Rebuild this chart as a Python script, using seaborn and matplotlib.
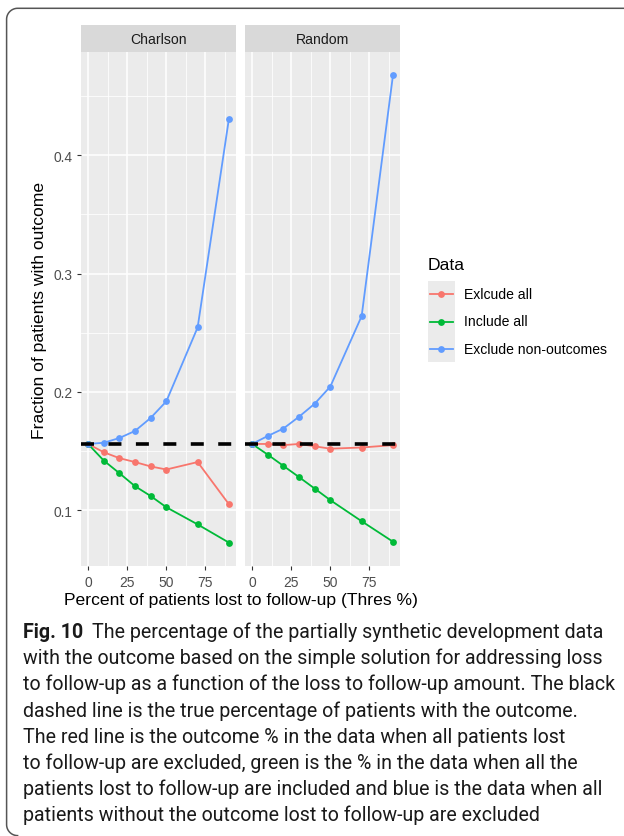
import numpy as np
import pandas as pd
import matplotlib
matplotlib.use("Agg")
import matplotlib.pyplot as plt
from matplotlib.lines import Line2D
from matplotlib.ticker import FixedLocator
import seaborn as sns

# ---- data -----------------------------------------------------------------
thres = [0, 10, 20, 30, 40, 50, 70, 90]
panels = ["Charlson", "Random"]
series = ["Exlcude all", "Include all", "Exclude non-outcomes"]
palette = ["#F8766D", "#00BA38", "#619CFF"]

charlson_exclude_all = [0.156, 0.149, 0.144, 0.1407, 0.137, 0.1344, 0.1407, 0.105]
charlson_include_all = [0.156, 0.142, 0.1313, 0.1203, 0.112, 0.1025, 0.088, 0.0726]
charlson_exclude_non = [0.156, 0.157, 0.161, 0.167, 0.178, 0.192, 0.2545, 0.431]

random_exclude_all = [0.156, 0.156, 0.155, 0.156, 0.154, 0.152, 0.153, 0.155]
random_include_all = [0.156, 0.147, 0.1375, 0.128, 0.1183, 0.1085, 0.0907, 0.0734]
random_exclude_non = [0.156, 0.1627, 0.169, 0.179, 0.190, 0.2045, 0.264, 0.4675]

true_fraction = 0.156

x_major = [0, 25, 50, 75]
x_minor = [12.5, 37.5, 62.5, 87.5]
y_major = [0.1, 0.2, 0.3, 0.4]
y_minor = [0.15, 0.25, 0.35, 0.45]

x_title = "Percent of patients lost to follow-up (Thres %)"
y_title = "Fraction of patients with outcome"
legend_title = "Data"

caption_bold = "Fig. 10"
caption_lines = [
    "The percentage of the partially synthetic development data",
    "with the outcome based on the simple solution for addressing loss",
    "to follow-up as a function of the loss to follow-up amount. The black",
    "dashed line is the true percentage of patients with the outcome.",
    "The red line is the outcome % in the data when all patients lost",
    "to follow-up are excluded, green is the % in the data when all the",
    "patients lost to follow-up are included and blue is the data when all",
    "patients without the outcome lost to follow-up are excluded",
]

panel_values = {
    "Charlson": [charlson_exclude_all, charlson_include_all, charlson_exclude_non],
    "Random": [random_exclude_all, random_include_all, random_exclude_non],
}
records = []
for panel in panels:
    for name, ys in zip(series, panel_values[panel]):
        for x, y in zip(thres, ys):
            records.append({"panel": panel, "thres": x, "Data": name, "frac": y})
df = pd.DataFrame(records)

# ---- figure ---------------------------------------------------------------
W, H, DPI = 624, 837, 100
plt.rcParams["font.family"] = ["Liberation Sans", "DejaVu Sans"]
fig = plt.figure(figsize=(W / DPI, H / DPI), dpi=DPI)
fig.patch.set_facecolor("white")


def rect(l, t, r, b):
    return [l / W, 1 - b / H, (r - l) / W, (b - t) / H]


# ggplot-like expanded limits (5 % each side)
xlo, xhi = min(thres), max(thres)
xpad = 0.05 * (xhi - xlo)
ylo, yhi = df["frac"].min(), df["frac"].max()
ypad = 0.05 * (yhi - ylo)

panel_px = {"Charlson": (81, 236), "Random": (245, 400)}
top, bottom = 53, 567
strip_top = 26

for i, panel in enumerate(panels):
    l, r = panel_px[panel]
    ax = fig.add_axes(rect(l, top, r, bottom))
    ax.set_facecolor("#EBEBEB")
    sub = df[df["panel"] == panel]
    sns.lineplot(data=sub, x="thres", y="frac", hue="Data", hue_order=series,
                 palette=palette, marker="o", markersize=4.9, markeredgewidth=0,
                 linewidth=1.3, estimator=None, legend=False, ax=ax, zorder=3)
    ax.axhline(true_fraction, color="black", lw=2.6, dashes=(3.6, 4.0), zorder=4)

    ax.set_xlim(xlo - xpad, xhi + xpad)
    ax.set_ylim(ylo - ypad, yhi + ypad)
    ax.xaxis.set_major_locator(FixedLocator(x_major))
    ax.xaxis.set_minor_locator(FixedLocator(x_minor))
    ax.yaxis.set_major_locator(FixedLocator(y_major))
    ax.yaxis.set_minor_locator(FixedLocator(y_minor))
    ax.grid(which="major", color="white", lw=1.1)
    ax.grid(which="minor", color="white", lw=0.55)
    ax.set_axisbelow(True)
    for s in ax.spines.values():
        s.set_visible(False)
    ax.tick_params(which="major", length=3.1, width=0.8, color="#333333",
                   labelcolor="#4D4D4D", labelsize=9.9, pad=3.2)
    ax.tick_params(which="minor", length=0)
    ax.set_xticklabels([str(v) for v in x_major])
    if i == 0:
        ax.set_yticklabels([f"{v:g}" for v in y_major])
    else:
        ax.tick_params(axis="y", which="both", left=False, labelleft=False)
    ax.set_xlabel("")
    ax.set_ylabel("")

    # facet strip
    sax = fig.add_axes(rect(l, strip_top, r, top))
    sax.set_facecolor("#D9D9D9")
    sax.set_xticks([])
    sax.set_yticks([])
    for s in sax.spines.values():
        s.set_visible(False)
    sax.text(0.5, 0.5, panel, ha="center", va="center", fontsize=10.1,
             color="#1A1A1A", transform=sax.transAxes)

# axis titles
fig.text(240.5 / W, 1 - 601 / H, x_title, ha="center", va="center", fontsize=12.6)
fig.text(40 / W, 1 - 310 / H, y_title, ha="center", va="center", fontsize=12.6,
         rotation=90)

# legend
fig.text(427.7 / W, 1 - 265 / H, legend_title, ha="left", va="center", fontsize=12.6)
key_top, key_h = 281.7, 27.2
lax = fig.add_axes(rect(427.7, key_top, 455, key_top + 3 * key_h))
lax.set_facecolor("#EBEBEB")
lax.set_xlim(0, 1)
lax.set_ylim(3, 0)
lax.set_xticks([])
lax.set_yticks([])
for s in lax.spines.values():
    s.set_visible(False)
for k, (name, col) in enumerate(zip(series, palette)):
    lax.plot([0.08, 0.92], [k + 0.5, k + 0.5], color=col, lw=1.3)
    lax.plot([0.5], [k + 0.5], marker="o", color=col, markersize=4.9, markeredgewidth=0)
    fig.text(464 / W, 1 - (key_top + (k + 0.5) * key_h) / H, name, ha="left",
             va="center", fontsize=10.1)

# outer frame: rounded top-left / bottom-left corners, open to the right and bottom
fx, fy_top, fy_bot, rad = 6.6, 9.3, 836.6, 11.0
t1 = np.linspace(np.pi, np.pi / 2, 20)
t2 = np.linspace(np.pi, 3 * np.pi / 2, 20)
top_arc_x = fx + rad + rad * np.cos(t1)
top_arc_y = fy_top + rad - rad * np.sin(t1)
bot_arc_x = fx + rad + rad * np.cos(t2)
bot_arc_y = fy_bot - rad - rad * np.sin(t2)
frame_x = np.concatenate([[W + 2], top_arc_x[::-1], bot_arc_x])
frame_y = np.concatenate([[fy_top], top_arc_y[::-1], bot_arc_y])
fig.add_artist(Line2D(frame_x / W, 1 - frame_y / H, transform=fig.transFigure,
                      color="#555555", lw=1.1, solid_joinstyle="round"))

# caption, sized so the second line spans the text block width
cap_font = ["Roboto", "Open Sans", "DejaVu Sans"]
cap_left, cap_right = 23, 605
fig.canvas.draw()
renderer = fig.canvas.get_renderer()
probe = fig.text(0, 0, caption_lines[1], fontsize=10, family=cap_font)
probe_w = probe.get_window_extent(renderer).width
probe.remove()
cap_fs = 10 * (cap_right - cap_left) / probe_w

base0, step = 638, 26.2
bold = fig.text(cap_left / W, 1 - base0 / H, caption_bold, fontsize=cap_fs,
                family=cap_font, fontweight="bold", va="baseline", color="#1a1a1a")
bx1 = bold.get_window_extent(renderer).x1
fig.text((bx1 + 9) / W, 1 - base0 / H, caption_lines[0],
         fontsize=cap_fs, family=cap_font, va="baseline", color="#1a1a1a")
for j, line in enumerate(caption_lines[1:], start=1):
    fig.text(cap_left / W, 1 - (base0 + j * step) / H, line, fontsize=cap_fs,
             family=cap_font, va="baseline", color="#1a1a1a")

fig.savefig("out.png", dpi=DPI, facecolor="white")
